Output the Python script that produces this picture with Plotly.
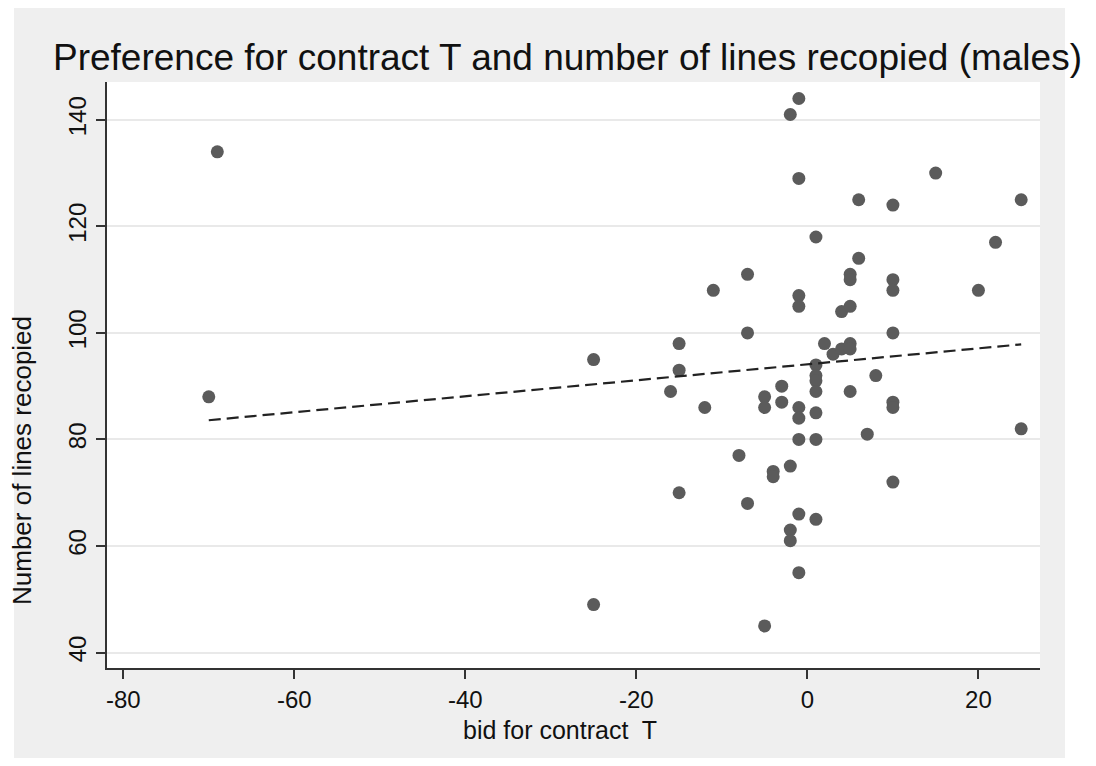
import numpy as np
import plotly.graph_objects as go

# Data (bid for contract T, number of lines recopied)
bid = [-70, -69, -25, -25, -16, -15, -15, -15, -12, -11, -8, -7, -7, -7,
       -5, -5, -5, -4, -4, -3, -3, -2, -2, -2, -2,
       -1, -1, -1, -1, -1, -1, -1, -1, -1,
       1, 1, 1, 1, 1, 1, 1, 1, 2, 3, 4, 4,
       5, 5, 5, 5, 5, 5, 6, 6, 7, 8,
       10, 10, 10, 10, 10, 10, 10, 15, 20, 22, 25, 25]
lines = [88, 134, 95, 49, 89, 98, 93, 70, 86, 108, 77, 111, 100, 68,
         88, 86, 45, 74, 73, 90, 87, 141, 75, 63, 61,
         144, 129, 107, 105, 86, 84, 80, 66, 55,
         118, 94, 92, 91, 89, 85, 80, 65, 98, 96, 97, 104,
         111, 110, 105, 98, 97, 89, 125, 114, 81, 92,
         124, 110, 108, 100, 87, 86, 72, 130, 108, 117, 125, 82]

x_ticks = [-80, -60, -40, -20, 0, 20]
y_ticks = [40, 60, 80, 100, 120, 140]

title_text = "Preference for contract T and number of lines recopied (males)"
x_title = "bid for contract  T"
y_title = "Number of lines recopied"

# Linear fit (as Stata lfit)
slope, intercept = np.polyfit(np.array(bid, float), np.array(lines, float), 1)
fit_x = [min(bid), max(bid)]
fit_y = [intercept + slope * v for v in fit_x]

fig = go.Figure()
fig.add_trace(go.Scatter(
    x=bid, y=lines, mode="markers",
    marker=dict(color="#5b5b5b", size=13, line=dict(width=0)),
    showlegend=False, hoverinfo="x+y"))
fig.add_trace(go.Scatter(
    x=fit_x, y=fit_y, mode="lines",
    line=dict(color="#222222", width=2.2, dash="12px,6px"),
    showlegend=False))

font_family = "Liberation Sans, Arial, sans-serif"

W, H = 1080, 750
L, R, T, B = 99, 48, 74, 90
PW, PH = W - L - R, H - T - B


def px(xf):
    return (xf - L) / PW


def py(yf):
    return (H - B - yf) / PH


fig.update_layout(
    width=W, height=H,
    paper_bgcolor="white", plot_bgcolor="white",
    margin=dict(l=L, r=R, t=T, b=B, autoexpand=False),
    font=dict(family=font_family, color="#111111"),
    title=dict(text=title_text, x=559.5 / W, xanchor="center", xref="container",
               y=1 - 49 / H, yanchor="middle", yref="container",
               font=dict(size=37, family=font_family, color="#111111")),
    shapes=[
        dict(type="rect", xref="paper", yref="paper", layer="below",
             x0=px(6), x1=px(1057), y0=py(760), y1=py(0),
             fillcolor="#efefef", line=dict(width=0)),
        dict(type="rect", xref="paper", yref="paper", layer="below",
             x0=0, x1=1, y0=0, y1=1,
             fillcolor="white", line=dict(width=0)),
    ],
    annotations=[
        dict(text=y_title, xref="paper", yref="paper", x=px(14), y=py(453),
             xanchor="center", yanchor="middle", textangle=-90, showarrow=False,
             font=dict(size=26, family=font_family, color="#111111")),
        dict(text=x_title, xref="paper", yref="paper", x=px(552), y=py(722),
             xanchor="center", yanchor="middle", showarrow=False, borderpad=0,
             font=dict(size=25, family=font_family, color="#111111")),
    ],
)

fig.update_xaxes(
    range=[-81.9, 27.2], tickvals=x_ticks, ticktext=[str(v) for v in x_ticks],
    showgrid=False, zeroline=False,
    showline=True, linecolor="#333333", linewidth=2,
    ticks="outside", ticklen=9, tickwidth=2, tickcolor="#333333",
    tickfont=dict(size=24, family=font_family, color="#111111"),
)
fig.update_yaxes(
    range=[37.1, 147.1], tickvals=y_ticks, ticktext=[str(v) for v in y_ticks],
    showgrid=True, gridcolor="#e9e9e9", gridwidth=2, zeroline=False,
    showline=True, linecolor="#333333", linewidth=2,
    ticks="outside", ticklen=9, tickwidth=2, tickcolor="#333333",
    tickangle=-90,
    tickfont=dict(size=24, family=font_family, color="#111111"),
)

fig.write_html("out.html")
